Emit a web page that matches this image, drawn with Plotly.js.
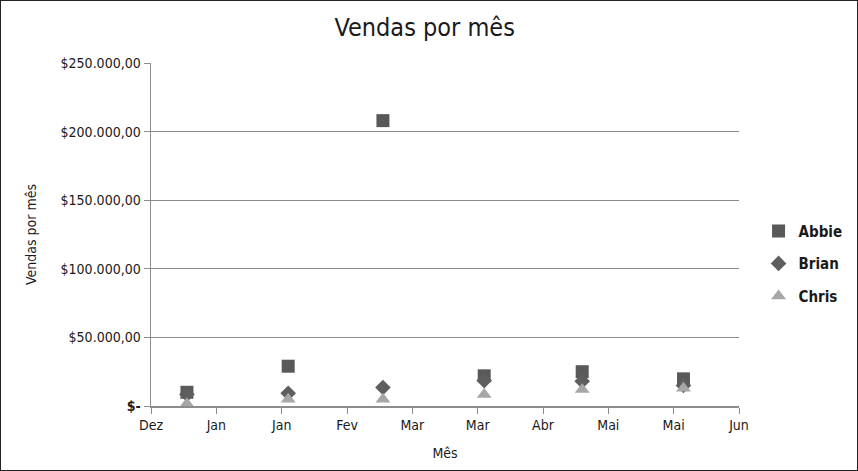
<!DOCTYPE html>
<html>
<head>
<meta charset="utf-8">
<script src="https://cdn.plot.ly/plotly-3.0.1.min.js"></script>
<style>
  html, body { margin: 0; padding: 0; background: #fff; }
  #chart { width: 858px; height: 471px; box-sizing: border-box; border: 1px solid #222; }
</style>
</head>
<body>
<div id="chart"></div>
<script>
// Monthly sales per salesperson (date of each closing)
const saleDates = ['2013-12-31', '2014-01-31', '2014-03-01', '2014-04-01', '2014-05-01', '2014-06-01'];
const abbie = [10000, 29000, 208000, 22000, 25000, 19800];
const brian = [8500, 9300, 13500, 18500, 18000, 15000];
const chris = [1600, 4900, 5000, 8300, 12000, 13000];

// Date axis ticks every 20 days, labelled with the month abbreviation
const xTickDates = ['2013-12-20', '2014-01-09', '2014-01-29', '2014-02-18', '2014-03-10',
                    '2014-03-30', '2014-04-19', '2014-05-09', '2014-05-29', '2014-06-18'];
const xTickLabels = ['Dez', 'Jan', 'Jan', 'Fev', 'Mar', 'Mar', 'Abr', 'Mai', 'Mai', 'Jun'];

const yTickValues = [0, 50000, 100000, 150000, 200000, 250000];
const yTickLabels = ['<b>$-</b>', '$50.000,00', '$100.000,00', '$150.000,00', '$200.000,00', '$250.000,00'];

const FONT = '"DejaVu Sans Condensed", "Liberation Sans Narrow", "Open Sans", sans-serif';

const traces = [
  { name: 'Abbie', y: abbie, symbol: 'square', color: '#595959', size: 13 },
  { name: 'Brian', y: brian, symbol: 'diamond', color: '#5e5e5e', size: 12 },
  { name: 'Chris', y: chris, symbol: 'triangle-up', color: '#a6a6a6', size: 13 }
].map(s => ({
  type: 'scatter',
  mode: 'markers',
  name: s.name,
  legendgroup: s.name,
  x: saleDates,
  y: s.y,
  marker: { symbol: s.symbol, color: s.color, size: s.size, line: { width: 0 } }
}));

const layout = {
  width: 856,
  height: 469,
  margin: { l: 150, r: 118, t: 62, b: 64 },
  paper_bgcolor: '#fff',
  plot_bgcolor: '#fff',
  font: { family: FONT, color: '#1a1a1a', size: 14 },
  title: {
    text: 'Vendas por mês',
    font: { family: FONT, size: 25, color: '#1a1a1a' },
    x: 0.495, xanchor: 'center',
    y: 0.945, yanchor: 'middle'
  },
  xaxis: {
    type: 'date',
    range: [xTickDates[0], xTickDates[xTickDates.length - 1]],
    tickmode: 'array',
    tickvals: xTickDates,
    ticktext: xTickLabels,
    showgrid: false,
    zeroline: false,
    showline: true,
    linecolor: '#8c8c8c',
    linewidth: 1.5,
    ticks: 'outside',
    ticklen: 6,
    tickcolor: '#8c8c8c',
    tickfont: { family: FONT, size: 14, color: '#1a1a1a' },
    title: { text: 'Mês', font: { family: FONT, size: 14, color: '#1a1a1a' }, standoff: 16 }
  },
  yaxis: {
    range: [0, 250000],
    tickmode: 'array',
    tickvals: yTickValues,
    ticktext: yTickLabels,
    showgrid: true,
    gridcolor: '#8c8c8c',
    gridwidth: 1,
    zeroline: false,
    showline: true,
    linecolor: '#8c8c8c',
    linewidth: 1.5,
    ticks: 'outside',
    ticklen: 6,
    tickcolor: '#8c8c8c',
    tickfont: { family: FONT, size: 14, color: '#1a1a1a' },
    title: { text: 'Vendas por mês', font: { family: FONT, size: 14, color: '#1a1a1a' }, standoff: 20 }
  },
  showlegend: true,
  legend: {
    xref: 'container', yref: 'container',
    x: 0.885, xanchor: 'left',
    y: 0.44, yanchor: 'middle',
    traceorder: 'grouped',
    tracegroupgap: 10,
    itemwidth: 30,
    font: { family: FONT, size: 15, color: '#1a1a1a', weight: 'bold' },
    bgcolor: 'rgba(0,0,0,0)'
  }
};

Plotly.newPlot('chart', traces, layout, { displayModeBar: false, staticPlot: true });
</script>
</body>
</html>
